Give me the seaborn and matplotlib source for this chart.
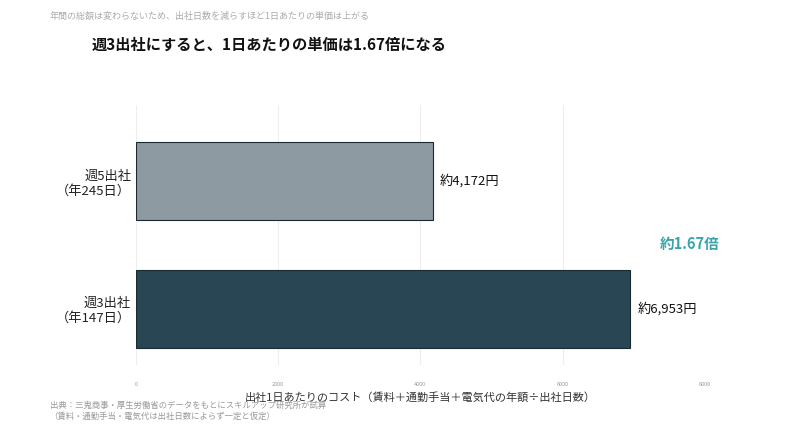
import matplotlib
matplotlib.use("Agg")
import matplotlib.pyplot as plt
import seaborn as sns
import pandas as pd

categories = ["週5出社\n（年245日）", "週3出社\n（年147日）"]
values = [4172, 6953]
value_labels = ["約4,172円", "約6,953円"]
colors = ["#8a9ba4", "#22495b"]
xticks = [0, 2000, 4000, 6000, 8000]

sns.set_theme(style="white")
plt.rcParams['font.family'] = ['Noto Sans CJK JP', 'DejaVu Sans']

df = pd.DataFrame({"cat": categories, "val": values})
fig = plt.figure(figsize=(8, 4.36), dpi=100)
ax = fig.add_axes([0.17, 0.163, 0.711, 0.596])
sns.barplot(data=df, y="cat", x="val", hue="cat", palette=colors, legend=False,
            orient="h", width=0.61, edgecolor="#1a2a33", linewidth=0.8, ax=ax)
ax.set_xlim(0, 8000)
ax.set_ylim(1.44, -0.594)
ax.set_xticks(xticks)
ax.set_xticklabels([str(t) for t in xticks], fontsize=4, color="#999999")
ax.tick_params(axis="x", length=0, pad=12)
ax.tick_params(axis="y", length=0, labelsize=9.5, labelcolor="#222222")
for lab in ax.get_yticklabels():
    lab.set_horizontalalignment("right")
ax.grid(axis="x", color="#eeeeee", linewidth=0.8)
ax.set_axisbelow(True)
for s in ax.spines.values():
    s.set_visible(False)
ax.set_ylabel("")
ax.set_xlabel("出社1日あたりのコスト（賃料＋通勤手当＋電気代の年額÷出社日数）", fontsize=8, color="#333333", labelpad=4)
for i, (v, t) in enumerate(zip(values, value_labels)):
    ax.text(v + 100, i, t, va="center", ha="left", fontsize=9.5, color="#111111")
fig.text(0.862, 0.44, "約1.67倍", fontsize=10.5, color="#3aa3ab", fontweight="bold", ha="center", va="center")
fig.text(0.062, 0.962, "年間の総額は変わらないため、出社日数を減らすほど1日あたりの単価は上がる", fontsize=6.5, color="#aaaaaa", va="center")
fig.text(0.115, 0.898, "週3出社にすると、1日あたりの単価は1.67倍になる", fontsize=11, color="#111111", fontweight="bold", va="center")
fig.text(0.062, 0.058, "出典：三鬼商事・厚生労働省のデータをもとにスキルアップ研究所が試算\n（賃料・通勤手当・電気代は出社日数によらず一定と仮定）",
         fontsize=6, color="#999999", va="center", linespacing=1.3)
fig.savefig("out.png", dpi=100)
